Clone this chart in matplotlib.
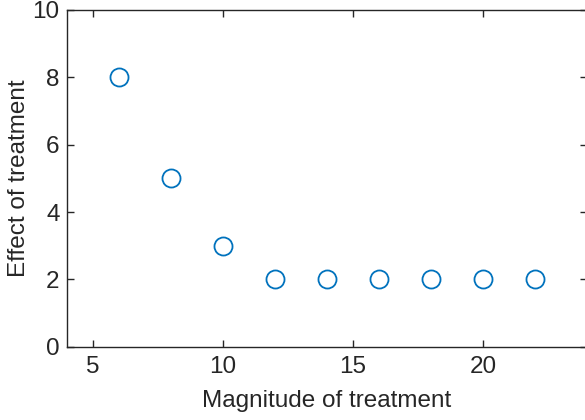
import matplotlib
matplotlib.use('Agg')
import matplotlib.pyplot as plt

# data
magnitude = [6, 8, 10, 12, 14, 16, 18, 20, 22]
effect = [8, 5, 3, 2, 2, 2, 2, 2, 2]
x_ticks = [5, 10, 15, 20]
y_ticks = [0, 2, 4, 6, 8, 10]

AX_COLOR = '#262626'
plt.rcParams['font.family'] = ['Liberation Sans', 'DejaVu Sans']

fig = plt.figure(figsize=(5.85, 4.20), dpi=100)
ax = fig.add_axes([0.114, 0.1745, 0.890, 0.8017])

ax.plot(magnitude, effect, linestyle='none', marker='o', markersize=13,
        markerfacecolor='none', markeredgecolor='#0072BD', markeredgewidth=1.3)

ax.set_xlim(4, 24)
ax.set_ylim(0, 10)
ax.set_xticks(x_ticks)
ax.set_yticks(y_ticks)

for s in ax.spines.values():
    s.set_color(AX_COLOR)
    s.set_linewidth(1.0)

ax.tick_params(direction='in', length=5, width=1.0, colors=AX_COLOR,
               labelsize=17.5, top=True, right=True)
ax.tick_params(axis='x', pad=7)
ax.tick_params(axis='y', pad=5)

ax.set_xlabel('Magnitude of treatment', fontsize=17.5, color=AX_COLOR, labelpad=8)
ax.set_ylabel('Effect of treatment', fontsize=17.5, color=AX_COLOR, labelpad=2)

fig.savefig('out.png', dpi=100)
